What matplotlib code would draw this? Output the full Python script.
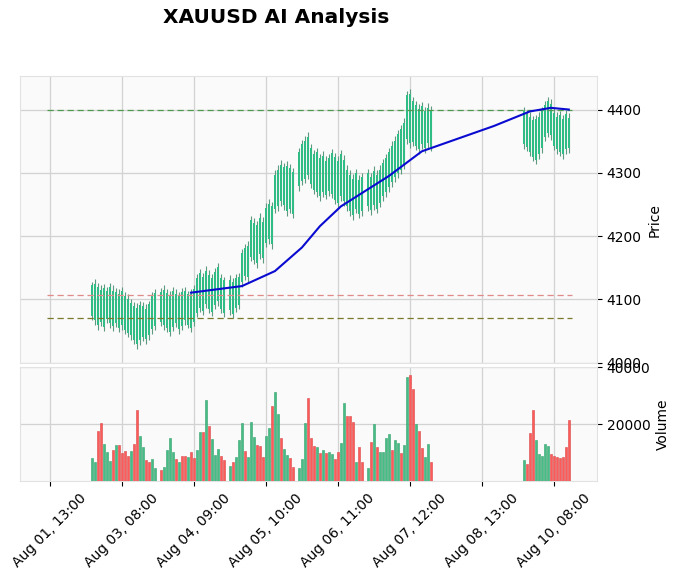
import matplotlib
matplotlib.use("Agg")
import matplotlib.pyplot as plt
import numpy as np

# bar blocks (index position of first bar, number of bars)
block_starts = [14, 37, 60, 83, 106, 158]
block_sizes = [22, 22, 22, 22, 22, 16]

lows = [4068, 4060, 4052, 4058, 4050, 4062, 4055, 4050, 4056, 4048, 4052, 4045, 4040, 4035, 4030, 4022, 4028, 4034, 4030, 4036, 4046, 4052,
        4058, 4052, 4048, 4042, 4050, 4056, 4046, 4052, 4060, 4054, 4048, 4058, 4072, 4080, 4076, 4086, 4078, 4074, 4084, 4090, 4078, 4072,
        4076, 4070, 4080, 4084, 4120, 4130, 4128, 4160, 4156, 4150, 4164, 4158, 4182, 4188, 4180, 4236, 4240, 4248, 4242, 4232, 4236, 4228,
        4272, 4280, 4284, 4290, 4276, 4266, 4262, 4256, 4262, 4258, 4264, 4260, 4250, 4246, 4256, 4248, 4240, 4232, 4226, 4236, 4228, 4232,
        4240, 4234, 4242, 4236, 4246, 4256, 4262, 4270, 4278, 4286, 4292, 4298, 4306, 4346, 4340, 4342, 4336, 4330, 4338, 4332, 4340, 4334,
        4338, 4334, 4326, 4318, 4314, 4322, 4332, 4350, 4356, 4352, 4336, 4330, 4326, 4322, 4330, 4332]
highs = [4128, 4132, 4126, 4122, 4124, 4120, 4126, 4122, 4118, 4116, 4120, 4112, 4108, 4100, 4096, 4094, 4098, 4096, 4092, 4098, 4112, 4116,
         4118, 4122, 4116, 4114, 4120, 4116, 4112, 4118, 4120, 4114, 4116, 4122, 4140, 4148, 4142, 4152, 4146, 4140, 4150, 4158, 4140, 4136,
         4138, 4134, 4140, 4142, 4180, 4188, 4192, 4232, 4228, 4224, 4236, 4230, 4252, 4258, 4254, 4304, 4312, 4320, 4316, 4318, 4314, 4308,
         4340, 4352, 4358, 4364, 4346, 4336, 4340, 4330, 4334, 4326, 4330, 4338, 4332, 4326, 4336, 4328, 4312, 4304, 4298, 4306, 4296, 4300,
         4306, 4300, 4310, 4304, 4312, 4322, 4330, 4340, 4350, 4358, 4368, 4376, 4386, 4430, 4432, 4420, 4414, 4408, 4412, 4404, 4410, 4406,
         4404, 4400, 4396, 4390, 4392, 4396, 4404, 4414, 4420, 4416, 4402, 4396, 4398, 4392, 4400, 4394]
opens = [4074, 4068, 4060, 4064, 4057, 4069, 4062, 4058, 4063, 4055, 4060, 4051, 4047, 4043, 4036, 4030, 4035, 4040, 4037, 4043, 4053, 4058,
         4064, 4059, 4055, 4049, 4057, 4062, 4053, 4058, 4067, 4060, 4055, 4064, 4079, 4087, 4082, 4093, 4085, 4080, 4091, 4097, 4085, 4078,
         4083, 4077, 4087, 4091, 4127, 4137, 4135, 4167, 4163, 4157, 4171, 4165, 4189, 4195, 4187, 4243, 4247, 4255, 4249, 4239, 4243, 4235,
         4279, 4287, 4291, 4297, 4283, 4273, 4269, 4263, 4269, 4265, 4271, 4267, 4257, 4253, 4263, 4255, 4247, 4239, 4233, 4243, 4235, 4239,
         4247, 4241, 4249, 4243, 4253, 4263, 4269, 4277, 4285, 4293, 4299, 4305, 4313, 4353, 4347, 4349, 4343, 4337, 4345, 4339, 4347, 4341,
         4345, 4341, 4333, 4325, 4321, 4329, 4339, 4357, 4363, 4359, 4343, 4337, 4333, 4329, 4337, 4339]
closes = [4122, 4124, 4120, 4115, 4118, 4113, 4120, 4114, 4112, 4109, 4113, 4106, 4101, 4094, 4089, 4087, 4091, 4090, 4085, 4092, 4105, 4110,
          4112, 4115, 4110, 4107, 4114, 4109, 4106, 4111, 4114, 4108, 4109, 4116, 4133, 4141, 4136, 4145, 4139, 4133, 4143, 4151, 4133, 4130,
          4131, 4127, 4133, 4135, 4173, 4181, 4185, 4225, 4221, 4217, 4229, 4223, 4245, 4251, 4247, 4297, 4305, 4313, 4309, 4311, 4307, 4301,
          4333, 4345, 4351, 4357, 4339, 4329, 4333, 4323, 4327, 4319, 4323, 4331, 4325, 4319, 4329, 4321, 4305, 4297, 4291, 4299, 4289, 4293,
          4299, 4293, 4303, 4297, 4305, 4315, 4323, 4333, 4343, 4351, 4361, 4369, 4379, 4423, 4425, 4413, 4407, 4401, 4405, 4397, 4403, 4399,
          4397, 4393, 4389, 4383, 4385, 4389, 4397, 4407, 4413, 4409, 4395, 4389, 4391, 4385, 4393, 4387]

volumes = [8070, 6900, 17650, 20350, 13090, 10390, 7120, 10980, 12740, 12740, 9820, 10630, 8880, 10630, 13090, 25020, 15900, 11890, 7470, 6900, 7720, 4560,
           3960, 5130, 10980, 15080, 10390, 7720, 6900, 8880, 8880, 8420, 10390, 8070, 10980, 17420, 17420, 28530, 19400, 14740, 9230, 11230, 8880, 7470,
           5370, 6880, 8420, 14490, 20350, 10740, 8420, 20700, 15650, 12740, 12390, 8420, 15900, 18600, 26420, 31440, 23510, 15090, 11230, 9230, 8070, 4910,
           4560, 7900, 20350, 29120, 15090, 12390, 11930, 10040, 10980, 10040, 10390, 9470, 7830, 10280, 13330, 27370, 22910, 22910, 20920, 6880, 11930, 6770,
           4560, 13900, 20000, 11930, 10390, 10390, 15090, 16600, 11000, 14490, 13540, 9830, 12740, 36490, 37300, 32280, 20000, 17650, 11580, 8630, 13090, 6670,
           7470, 6070, 17060, 25020, 14490, 9580, 8980, 13090, 12390, 9470, 8980, 8630, 8070, 8630, 11930, 21510]
# 1 = up (green), 0 = down (red)
vol_up = [1, 1, 0, 0, 1, 1, 1, 0, 1, 0, 0, 0, 0, 1, 0, 0, 1, 1, 0, 0, 1, 1,
          0, 1, 1, 1, 1, 0, 1, 0, 0, 1, 0, 0, 1, 1, 0, 1, 0, 1, 1, 1, 0, 0,
          1, 0, 1, 1, 1, 0, 1, 1, 1, 0, 0, 0, 1, 1, 0, 1, 1, 0, 1, 1, 0, 0,
          1, 1, 1, 0, 0, 0, 1, 0, 1, 0, 1, 1, 0, 0, 1, 1, 0, 0, 0, 1, 0, 0,
          1, 0, 1, 0, 1, 1, 1, 1, 0, 1, 1, 0, 1, 1, 0, 0, 1, 0, 0, 1, 1, 0,
          1, 0, 0, 0, 1, 1, 1, 1, 1, 0, 0, 0, 0, 0, 0, 0]

# blue trend line
ma_idx = [47, 64, 75, 84, 90, 97, 113, 124, 148, 160, 167, 173]
ma_vals = [4110.6, 4121, 4144.7, 4182, 4215.7, 4247, 4295, 4334, 4374, 4397, 4402.7, 4400]

levels = [4400, 4107, 4071]
level_colors = ['#4f9a4f', '#e08a8a', '#7a7a2a']

tick_labels = ['Aug 01, 13:00', 'Aug 03, 08:00', 'Aug 04, 09:00', 'Aug 05, 10:00',
               'Aug 06, 11:00', 'Aug 07, 12:00', 'Aug 08, 13:00', 'Aug 10, 08:00']

x = np.concatenate([np.arange(s, s + n) for s, n in zip(block_starts, block_sizes)])
opens = np.array(opens); closes = np.array(closes)
lows = np.array(lows); highs = np.array(highs)

fig = plt.figure(figsize=(6.79, 5.78), dpi=100)
ax1 = fig.add_axes([0.0295, 0.3715, 0.8498, 0.497])
ax2 = fig.add_axes([0.0295, 0.1673, 0.8498, 0.197], sharex=ax1)

for ax in (ax1, ax2):
    ax.set_facecolor('#fafafa')
    ax.grid(True, color='#d2d2d2', linewidth=0.9)
    ax.set_axisbelow(True)
    for sp in ax.spines.values():
        sp.set_color('#e2e2e2')
    ax.yaxis.tick_right()
    ax.yaxis.set_label_position('right')
    ax.tick_params(labelsize=10)

green = '#2fbd85'
ax1.vlines(x, lows, highs, color='#5d9b80', linewidth=0.8, zorder=2)
ax1.bar(x, closes - opens, bottom=opens, width=0.62, color=green, linewidth=0, zorder=3)

ax1.plot(ma_idx, ma_vals, color='#0a0ad0', linewidth=1.5, zorder=4)
for lv, c in zip(levels, level_colors):
    ax1.hlines(lv, -1, 174, colors=c, linestyles=(0, (5, 3)), linewidth=0.9, zorder=3)

ax1.set_ylim(3999, 4453)
ax1.set_yticks([4000, 4100, 4200, 4300, 4400])
ax1.set_ylabel('Price', fontsize=10)
ax1.tick_params(axis='x', length=0, labelbottom=False)

vcols = ['#45bd85' if u else '#ff5a5a' for u in vol_up]
ecols = ['#34a06e' if u else '#d84848' for u in vol_up]
ax2.bar(x, volumes, width=0.9, color=vcols, edgecolor=ecols, linewidth=0.4, zorder=3)
ax2.set_ylim(0, 40000)
ax2.set_yticks([20000, 40000])
ax2.set_ylabel('Volume', fontsize=10)

ax2.set_xlim(-10, 182.4)
ax2.set_xticks(np.arange(0, 169, 24))
ax2.set_xticklabels(tick_labels, rotation=45, ha='center')

fig.text(0.407, 0.969, 'XAUUSD AI Analysis', fontsize=14.5, fontweight='bold',
         ha='center', va='center')

fig.savefig('out.png', dpi=100)
